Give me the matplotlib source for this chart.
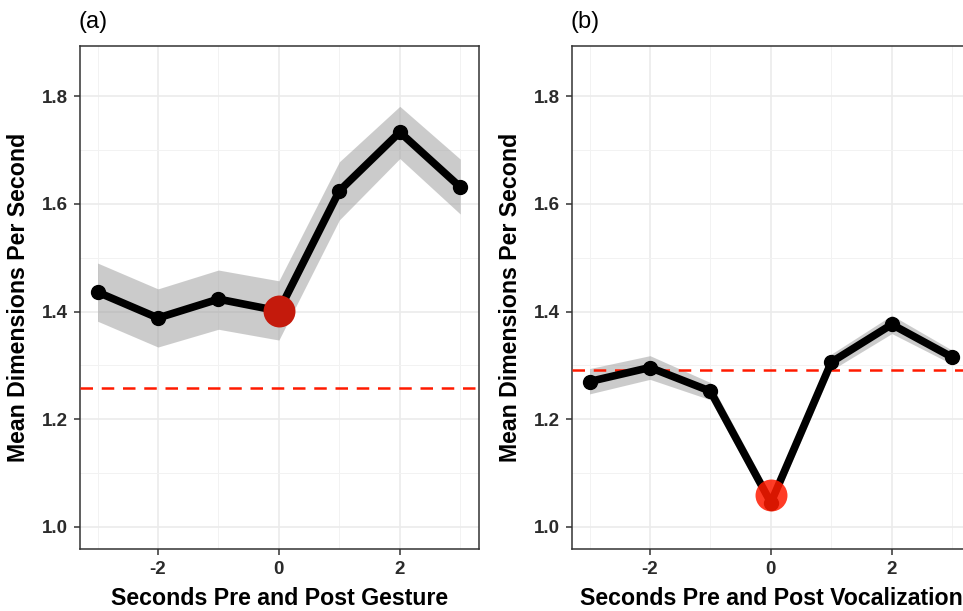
import matplotlib
matplotlib.use('Agg')
import matplotlib.pyplot as plt
import numpy as np

plt.rcParams['font.family'] = ['Liberation Sans', 'DejaVu Sans']

# seconds relative to the event
seconds = [-3, -2, -1, 0, 1, 2, 3]

# (a) gesture
gesture_mean = [1.436, 1.388, 1.423, 1.401, 1.624, 1.733, 1.631]
gesture_lo = [1.382, 1.334, 1.367, 1.347, 1.570, 1.684, 1.581]
gesture_hi = [1.490, 1.442, 1.477, 1.457, 1.678, 1.781, 1.683]
gesture_baseline = 1.258
gesture_event = 1.401

# (b) vocalization
vocal_mean = [1.270, 1.296, 1.252, 1.045, 1.306, 1.376, 1.315]
vocal_lo = [1.247, 1.274, 1.236, 1.031, 1.291, 1.359, 1.302]
vocal_hi = [1.294, 1.318, 1.268, 1.059, 1.321, 1.393, 1.328]
vocal_baseline = 1.291
vocal_event = 1.059

panels = [
    ("(a)", "Seconds Pre and Post Gesture", gesture_mean, gesture_lo, gesture_hi,
     gesture_baseline, gesture_event, '#C41A0C', 1.0),
    ("(b)", "Seconds Pre and Post Vocalization", vocal_mean, vocal_lo, vocal_hi,
     vocal_baseline, vocal_event, '#FF1A00', 0.85),
]

fig = plt.figure(figsize=(9.63, 6.11), dpi=100)
lefts = [80 / 963, 572 / 963]
w = 399 / 963
b = (611 - 549) / 611
h = (549 - 46) / 611

for left, (tag, xlab, mean, lo, hi, base, event, red, ralpha) in zip(lefts, panels):
    ax = fig.add_axes([left, b, w, h])
    ax.set_xlim(-3.29, 3.31)
    ax.set_ylim(0.959, 1.893)

    # ggplot-like grid
    ax.set_xticks([-2, 0, 2])
    ax.set_yticks([1.0, 1.2, 1.4, 1.6, 1.8])
    ax.set_xticks([-3, -1, 1, 3], minor=True)
    ax.set_yticks([1.1, 1.3, 1.5, 1.7], minor=True)
    ax.grid(True, which='major', color='#EBEBEB', lw=1.2, zorder=0)
    ax.grid(True, which='minor', color='#F2F2F2', lw=0.7, zorder=0)
    ax.set_axisbelow(True)
    ax.tick_params(which='minor', length=0)
    ax.tick_params(which='major', length=4, width=1.1, color='#333333',
                   labelsize=13.5, labelcolor='#2B2B2B', pad=5)
    ax.set_xticklabels(['-2', '0', '2'], fontweight='bold')
    ax.set_yticklabels(['1.0', '1.2', '1.4', '1.6', '1.8'], fontweight='bold')
    for sp in ax.spines.values():
        sp.set_color('#333333')
        sp.set_linewidth(1.1)

    ax.fill_between(seconds, lo, hi, color='#999999', alpha=0.5, lw=0, zorder=2)
    ax.axhline(base, color='#FF1A00', ls=(0, (5, 3.5)), lw=1.8, zorder=3)
    ax.plot(seconds, mean, color='black', lw=5.5, marker='o', markersize=10,
            solid_joinstyle='round', zorder=4)
    ax.plot([0], [event], 'o', color=red, alpha=ralpha, markersize=23,
            markeredgewidth=0, zorder=5)

    ax.set_xlabel(xlab, fontsize=16.7, fontweight='bold', labelpad=6)
    ax.set_ylabel('Mean Dimensions Per Second', fontsize=16.7, fontweight='bold',
                  labelpad=8)
    ax.text(-0.005, 1.025, tag, transform=ax.transAxes, fontsize=17,
            ha='left', va='bottom')

fig.savefig('out.png', dpi=100)
